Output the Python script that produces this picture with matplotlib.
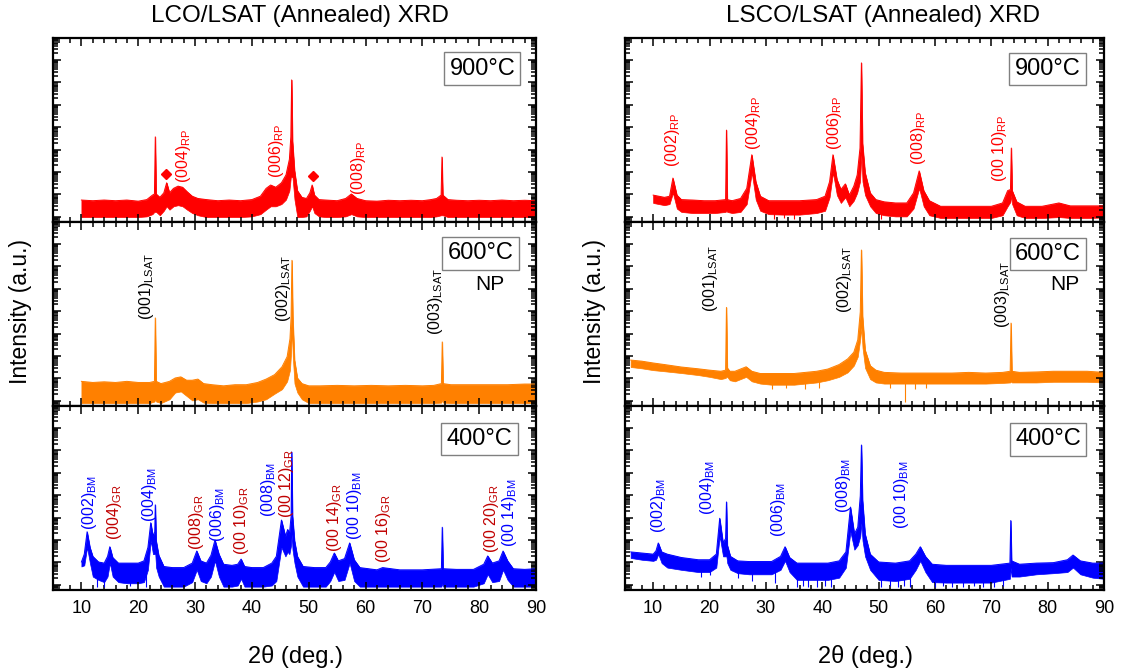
import numpy as np
import matplotlib
matplotlib.use("Agg")
import matplotlib.pyplot as plt
import matplotlib.transforms as mtransforms
from matplotlib.ticker import MultipleLocator, LogLocator, NullFormatter

plt.rcParams['font.family'] = ['Liberation Sans', 'DejaVu Sans']
plt.rcParams['mathtext.fontset'] = 'custom'
plt.rcParams['mathtext.rm'] = 'Liberation Sans'
plt.rcParams['mathtext.it'] = 'Liberation Sans:italic'
plt.rcParams['mathtext.bf'] = 'Liberation Sans:bold'

# ---------------- data (log10 intensity, decades above panel floor) ----------------
# LCO / LSAT 900 C
lco900_x = [10, 12, 14, 16, 18, 20, 21.5, 22.5, 22.85, 23.0, 23.15, 23.8, 24.5, 25.0, 25.5, 26.2, 27.0, 27.8,
            28.6, 29.5, 30.5, 32, 34, 36, 38, 40, 41.5, 42.5, 43.3, 44.2, 45.2, 46.0, 46.6, 46.85, 47.0, 47.15,
            47.5, 48.0, 48.8, 49.6, 50.2, 50.6, 51.0, 51.8, 53, 55, 56.5, 57.5, 58.5, 60, 62, 64, 66, 68, 70,
            71.5, 72.5, 73.3, 73.45, 73.6, 74.5, 76, 78, 80, 82, 84, 86, 88, 90]
lco900_hi = [0.98, 0.95, 0.98, 0.95, 0.98, 0.93, 1.0, 1.2, 1.25, 3.8, 1.25, 1.1, 1.3, 1.75, 1.3, 1.5, 1.6, 1.55,
             1.35, 1.15, 1.05, 1.0, 0.95, 0.98, 0.95, 1.0, 1.15, 1.5, 1.65, 1.55, 1.75, 2.1, 2.8, 3.8, 6.34, 3.6,
             2.3, 1.4, 1.1, 1.05, 1.3, 1.65, 1.2, 1.0, 0.98, 0.95, 1.05, 1.25, 1.05, 0.95, 0.93, 0.97, 0.95, 0.97, 0.95,
             1.0, 1.05, 1.2, 2.9, 1.2, 1.0, 0.97, 0.95, 0.97, 0.95, 0.98, 0.95, 0.97, 0.95]
lco900_lo = [0.22, 0.22, 0.22, 0.22, 0.22, 0.22, 0.25, 0.35, 0.45, 0.45, 0.45, 0.3, 0.5, 0.7, 0.55, 0.7, 0.75, 0.7,
             0.55, 0.4, 0.3, 0.22, 0.22, 0.22, 0.22, 0.25, 0.35, 0.55, 0.7, 0.7, 0.8, 1.0, 1.4, 2.0, 2.0, 2.0,
             1.0, 0.22, 0.22, 0.25, 0.5, 0.7, 0.4, 0.25, 0.22, 0.22, 0.25, 0.35, 0.25, 0.22, 0.22, 0.22, 0.22, 0.22, 0.22,
             0.22, 0.25, 0.3, 0.3, 0.3, 0.22, 0.22, 0.22, 0.22, 0.22, 0.22, 0.22, 0.22, 0.22]
lco900_diamond_x = [24.8, 50.8]
lco900_diamond_y = [2.14, 2.05]

# LCO / LSAT 600 C
lco600_x = [10, 12, 14, 16, 18, 20, 22, 22.85, 23.0, 23.15, 24, 25.5, 26.5, 27.5, 28.5, 29.5, 30.5, 31.5, 33, 35,
            37, 39, 41, 42.5, 44, 45.3, 46.2, 46.7, 46.9, 47.05, 47.2, 47.5, 48, 48.8, 50, 52, 55, 58, 61, 64, 67,
            70, 72, 73.35, 73.5, 73.65, 75, 78, 81, 85, 88, 90]
lco600_hi = [1.1, 1.05, 1.08, 1.05, 1.1, 1.05, 1.05, 1.1, 3.93, 1.1, 1.0, 1.1, 1.25, 1.3, 1.15, 1.15, 1.2, 1.0, 0.95,
             0.9, 0.95, 0.95, 1.05, 1.2, 1.4, 1.75, 2.2, 3.0, 4.0, 6.5, 4.0, 2.05, 1.25, 1.0, 0.9, 0.9, 0.92, 0.9,
             0.92, 0.9, 0.92, 0.9, 0.92, 1.0, 2.86, 1.0, 0.95, 0.95, 0.95, 0.95, 0.98, 0.98]
lco600_lo = [0.13, 0.13, 0.13, 0.13, 0.13, 0.13, 0.13, 0.2, 0.3, 0.2, 0.13, 0.3, 0.6, 0.65, 0.45, 0.25, 0.3, 0.15,
             0.13, 0.13, 0.13, 0.13, 0.2, 0.3, 0.55, 0.75, 1.1, 1.6, 2.4, 3.5, 2.2, 1.0, 0.6, 0.3, 0.13, 0.13, 0.13,
             0.13, 0.13, 0.13, 0.13, 0.13, 0.13, 0.15, 0.3, 0.15, 0.13, 0.13, 0.13, 0.13, 0.13, 0.13]

# LCO / LSAT 400 C
lco400_x = [10, 10.5, 11.0, 11.5, 12, 13, 14, 14.6, 15.0, 15.5, 16.5, 18, 20, 21, 21.7, 22.2, 22.6, 22.9, 23.0,
            23.15, 23.6, 24.5, 26, 28, 29.5, 30.3, 31, 32, 32.8, 33.5, 34.2, 35, 36.5, 37.5, 38.1, 38.7, 40, 42,
            43.5, 44.3, 45.2, 45.9, 46.3, 46.6, 46.9, 47.0, 47.15, 47.5, 48, 49, 51, 53, 53.8, 54.5, 55.2, 56.3,
            57.2, 58, 59, 62, 63, 66, 70, 73.35, 73.5, 73.65, 76, 79, 80.8, 81.5, 82.3, 83.5, 84.2, 85, 86, 88, 90]
lco400_hi = [1.25, 1.6, 2.6, 1.9, 1.5, 1.25, 1.2, 1.5, 1.93, 1.45, 1.2, 1.2, 1.2, 1.3, 1.9, 3.0, 2.4, 2.6, 3.8,
             2.2, 1.55, 1.05, 1.0, 1.0, 1.2, 1.74, 1.3, 1.2, 1.55, 2.23, 1.6, 1.15, 1.1, 1.15, 1.38, 1.05, 1.0, 1.0,
             1.2, 1.5, 3.12, 2.4, 2.7, 2.5, 3.3, 6.16, 3.3, 2.2, 1.5, 1.05, 1.0, 1.0, 1.25, 1.65, 1.3, 1.4,
             2.1, 1.35, 1.0, 0.9, 1.0, 0.9, 0.9, 0.95, 2.8, 0.95, 0.92, 0.92, 1.15, 1.52, 1.2, 1.3, 1.74, 1.3, 0.95, 0.92, 0.95]
lco400_lo = [1.05, 1.1, 1.9, 1.2, 0.6, 0.45, 0.35, 0.6, 1.2, 0.6, 0.35, 0.3, 0.3, 0.35, 0.9, 2.2, 1.6, 1.6, 1.6,
             1.0, 0.6, 0.15, 0.15, 0.15, 0.35, 0.9, 0.4, 0.3, 0.6, 1.3, 0.6, 0.15, 0.15, 0.2, 0.5, 0.15, 0.15, 0.15,
             0.2, 0.4, 1.9, 1.5, 1.7, 1.6, 2.0, 2.5, 1.8, 1.2, 0.6, 0.15, 0.15, 0.15, 0.4, 0.8, 0.4, 0.45,
             1.2, 0.4, 0.15, 0.15, 0.15, 0.15, 0.15, 0.15, 0.3, 0.15, 0.15, 0.15, 0.3, 0.7, 0.35, 0.4, 0.9, 0.45, 0.15, 0.15, 0.15]
lco400_dip_x = [12.8, 14.0, 18.5, 21.3]
lco400_dip_y = [0.13, 0.13, 0.2, 0.13]

# LSCO / LSAT 900 C
lsco900_x = [10, 11, 12, 12.9, 13.5, 14.2, 15, 17, 19, 21, 22.85, 23.0, 23.15, 24, 25.5, 26.6, 27.5, 28.2, 29.0,
             30.5, 33, 36, 39, 40.5, 41.3, 41.9, 42.6, 43.3, 44.1, 44.8, 45.6, 46.2, 46.7, 46.95, 47.15, 47.6,
             48.5, 49.5, 51, 53, 55, 56.2, 57.2, 58, 59, 61, 64, 67, 70, 72, 72.9, 73.4, 73.55, 73.7, 74.5, 76,
             79, 82, 84, 87, 90]
lsco900_hi = [1.2, 1.15, 1.1, 1.15, 1.96, 1.2, 1.0, 0.98, 0.95, 0.95, 1.0, 4.1, 1.0, 0.95, 1.05, 1.5, 3.0, 1.8, 1.15,
              0.95, 0.95, 0.95, 1.0, 1.15, 1.8, 3.0, 1.9, 1.45, 1.7, 1.2, 1.6, 2.1, 3.3, 7.1, 3.5, 2.2,
              1.3, 1.0, 0.9, 0.85, 0.85, 1.3, 2.28, 1.4, 0.95, 0.7, 0.7, 0.7, 0.7, 0.85, 1.4, 1.45, 3.3, 1.4, 0.9, 0.7,
              0.7, 0.85, 0.72, 0.72, 0.72]
lsco900_lo = [0.85, 0.8, 0.75, 0.8, 1.3, 0.6, 0.45, 0.4, 0.4, 0.4, 0.45, 0.5, 0.45, 0.4, 0.45, 0.8, 2.2, 1.0, 0.5,
              0.35, 0.33, 0.33, 0.4, 0.5, 1.1, 2.2, 1.2, 0.85, 1.1, 0.7, 0.95, 1.3, 1.8, 3.0, 1.8, 1.2,
              0.7, 0.4, 0.3, 0.25, 0.25, 0.6, 1.5, 0.7, 0.3, 0.18, 0.18, 0.18, 0.18, 0.3, 0.7, 0.9, 1.2, 0.8, 0.3, 0.18,
              0.18, 0.22, 0.18, 0.18, 0.2]
lsco900_dip_x = [31.5, 33.2, 35.0, 50.5]
lsco900_dip_y = [0.15, 0.2, 0.15, 0.12]

# LSCO / LSAT 600 C
lsco600_x = [6, 8, 10, 12, 15, 18, 20, 22, 22.85, 23.0, 23.15, 23.6, 24.5, 25.5, 26.5, 27.5, 29, 31, 33, 35, 37,
             39, 41, 43, 44.5, 45.6, 46.3, 46.75, 46.95, 47.15, 47.6, 48.5, 49.5, 51, 54, 57, 60, 63, 66, 69, 72,
             73.35, 73.5, 73.65, 75, 78, 81, 84, 87, 90]
lsco600_hi = [2.05, 2.0, 1.92, 1.85, 1.74, 1.66, 1.6, 1.55, 1.6, 4.4, 1.7, 1.55, 1.55, 1.65, 1.75, 1.55, 1.45, 1.45,
              1.45, 1.45, 1.5, 1.55, 1.65, 1.85, 2.1, 2.4, 2.95, 4.2, 6.96, 4.0, 2.5, 1.8, 1.6, 1.5, 1.47, 1.47,
              1.47, 1.47, 1.5, 1.47, 1.5, 1.55, 3.7, 1.55, 1.5, 1.52, 1.55, 1.55, 1.55, 1.5]
lsco600_lo = [1.74, 1.68, 1.6, 1.55, 1.47, 1.38, 1.3, 1.2, 1.25, 1.3, 1.3, 1.15, 1.1, 1.2, 1.3, 1.1, 1.0, 0.95,
              0.95, 0.95, 1.0, 1.05, 1.15, 1.3, 1.5, 1.8, 2.2, 3.0, 3.5, 2.6, 1.7, 1.2, 1.05, 1.0, 1.0, 1.0,
              1.0, 1.0, 1.0, 1.0, 1.03, 1.05, 1.1, 1.05, 1.05, 1.05, 1.08, 1.08, 1.08, 1.05]
lsco600_dip_x = [31.0, 33.5, 37.0, 39.5, 52.0, 54.6, 56.5, 58.5]
lsco600_dip_y = [0.75, 0.8, 0.75, 0.8, 0.8, 0.18, 0.75, 0.8]

# LSCO / LSAT 400 C
lsco400_x = [6, 8, 10, 10.5, 10.9, 11.5, 12.5, 15, 18, 20, 21.2, 21.8, 22.4, 22.85, 23.0, 23.15, 23.7, 25, 27, 29,
             31, 32.6, 33.4, 34.2, 35.5, 38, 41, 43, 44.2, 45.0, 45.7, 46.3, 46.75, 46.95, 47.15, 47.6, 48.5, 50,
             53, 55.5, 56.6, 57.4, 58.3, 59.5, 62, 66, 70, 73.3, 73.45, 73.6, 75, 78, 81, 83.5, 84.5, 85.8, 88, 90]
lsco400_hi = [1.7, 1.65, 1.6, 1.75, 2.1, 1.7, 1.6, 1.45, 1.35, 1.35, 1.6, 3.2, 2.1, 2.3, 3.93, 2.0, 1.5, 1.3, 1.27,
              1.27, 1.27, 1.5, 1.93, 1.45, 1.2, 1.2, 1.2, 1.3, 1.7, 3.7, 2.5, 2.8, 4.2, 6.47, 4.0, 2.5, 1.6, 1.25,
              1.2, 1.3, 1.6, 1.93, 1.5, 1.15, 1.1, 1.1, 1.1, 1.2, 3.1, 1.3, 1.15, 1.2, 1.22, 1.35, 1.56, 1.3, 1.2, 1.2]
lsco400_lo = [1.43, 1.35, 1.3, 1.35, 1.6, 1.2, 1.0, 0.9, 0.8, 0.8, 1.0, 2.4, 1.5, 1.5, 1.5, 1.2, 0.9, 0.75, 0.7,
              0.7, 0.7, 0.9, 1.3, 0.8, 0.45, 0.45, 0.45, 0.55, 1.0, 2.6, 1.8, 2.0, 2.4, 3.0, 2.2, 1.5, 0.9, 0.45,
              0.4, 0.5, 0.9, 1.3, 0.8, 0.35, 0.33, 0.33, 0.33, 0.5, 1.0, 0.6, 0.6, 0.7, 0.75, 0.8, 1.0, 0.7, 0.55, 0.5]
lsco400_dip_x = [18.5, 20.0, 25.0, 27.5, 31.7, 35.5, 36.5, 37.5, 39.0, 40.5, 41.5, 50.5, 52.0, 53.5, 54.5, 55.5,
                 60.0, 61.5, 63.0, 65.0, 67.0, 68.5, 70.5, 72.0]
lsco400_dip_y = [0.6, 0.65, 0.55, 0.4, 0.3, 0.15, 0.2, 0.15, 0.15, 0.2, 0.15, 0.15, 0.2, 0.15, 0.2, 0.15,
                 0.15, 0.2, 0.15, 0.15, 0.2, 0.15, 0.15, 0.2]

# peak labels: (text, subscript, x position in deg, label-bottom height as axes fraction)
lco900_labels = [("(004)", "RP", 27.9, 0.212), ("(006)", "RP", 44.3, 0.239), ("(008)", "RP", 58.7, 0.147)]
lco600_labels = [("(001)", "LSAT", 21.5, 0.467), ("(002)", "LSAT", 45.5, 0.457), ("(003)", "LSAT", 72.3, 0.386)]
lco400_labels = [("(002)", "BM", 11.5, 0.326), ("(004)", "GR", 15.9, 0.272), ("(004)", "BM", 21.9, 0.37),
                 ("(008)", "GR", 30.2, 0.217), ("(006)", "BM", 34.0, 0.261), ("(00 10)", "GR", 38.1, 0.19),
                 ("(008)", "BM", 42.9, 0.397), ("(00 12)", "GR", 46.1, 0.391), ("(00 14)", "GR", 54.6, 0.207),
                 ("(00 10)", "BM", 58.1, 0.272), ("(00 16)", "GR", 63.1, 0.147), ("(00 20)", "GR", 82.2, 0.201),
                 ("(00 14)", "BM", 85.4, 0.234)]
lsco900_labels = [("(002)", "RP", 13.5, 0.299), ("(004)", "RP", 27.8, 0.391), ("(006)", "RP", 42.1, 0.391),
                  ("(008)", "RP", 57.0, 0.31), ("(00 10)", "RP", 71.5, 0.217)]
lsco600_labels = [("(001)", "LSAT", 20.2, 0.511), ("(002)", "LSAT", 44.0, 0.505), ("(003)", "LSAT", 72.0, 0.424)]
lsco400_labels = [("(002)", "BM", 11.0, 0.31), ("(004)", "BM", 19.7, 0.408), ("(006)", "BM", 32.2, 0.288),
                  ("(008)", "BM", 43.7, 0.418), ("(00 10)", "BM", 54.1, 0.332)]

titles = ["LCO/LSAT (Annealed) XRD", "LSCO/LSAT (Annealed) XRD"]
temps = ["900°C", "600°C", "400°C"]
xticks = [10, 20, 30, 40, 50, 60, 70, 80, 90]

# ---------------- styling ----------------
RED = "#FF0000"
ORANGE = "#FF8000"
BLUE = "#0000FF"
DARKRED = "#C00000"
LOG0 = -0.23          # log10 at panel floor
NDEC = 8.21           # decades per panel

fig = plt.figure(figsize=(11.22, 6.72), dpi=100)

col_left = [53 / 1122, 625 / 1122]
col_width = [483 / 1122, 479 / 1122]
row_bottom = [1 - 222 / 672, 1 - 406 / 672, 1 - 590 / 672]
row_h = 184 / 672

traces = [
    [(lco900_x, lco900_lo, lco900_hi, RED, [], []),
     (lco600_x, lco600_lo, lco600_hi, ORANGE, [], []),
     (lco400_x, lco400_lo, lco400_hi, BLUE, lco400_dip_x, lco400_dip_y)],
    [(lsco900_x, lsco900_lo, lsco900_hi, RED, lsco900_dip_x, lsco900_dip_y),
     (lsco600_x, lsco600_lo, lsco600_hi, ORANGE, lsco600_dip_x, lsco600_dip_y),
     (lsco400_x, lsco400_lo, lsco400_hi, BLUE, lsco400_dip_x, lsco400_dip_y)],
]
labels = [[lco900_labels, lco600_labels, lco400_labels],
          [lsco900_labels, lsco600_labels, lsco400_labels]]

def lab_color(sub):
    return {"RP": RED, "LSAT": "black", "BM": BLUE, "GR": DARKRED}[sub]

box_pos = [[(0.889, 0.834), (0.885, 0.829), (0.883, 0.82)],
           [(0.882, 0.832), (0.883, 0.826), (0.883, 0.818)]]
np_pos = [(0.905, 0.658), (0.918, 0.658)]

for c in range(2):
    for r in range(3):
        ax = fig.add_axes([col_left[c], row_bottom[r], col_width[c], row_h])
        x, lo, hi, col, dx, dy = traces[c][r]
        x = np.array(x)
        lo_i = 10 ** (np.array(lo) + LOG0)
        hi_i = 10 ** (np.array(hi) + LOG0)
        ax.fill_between(x, lo_i, hi_i, color=col, lw=0.5)
        ax.plot(x, hi_i, color=col, lw=0.7)
        if len(dx):
            top = np.interp(dx, x, np.array(lo)) + 0.2
            ax.vlines(dx, 10 ** (np.array(dy) + LOG0), 10 ** (top + LOG0), color=col, lw=0.8)
        ax.set_yscale('log')
        ax.set_ylim(10 ** LOG0, 10 ** (LOG0 + NDEC))
        ax.set_xlim(5, 90)
        ax.xaxis.set_major_locator(MultipleLocator(10))
        ax.xaxis.set_minor_locator(MultipleLocator(2))
        ax.yaxis.set_major_locator(LogLocator(base=10, numticks=100))
        ax.yaxis.set_minor_locator(LogLocator(base=10, subs=np.arange(2, 10), numticks=100))
        ax.yaxis.set_major_formatter(NullFormatter())
        ax.yaxis.set_minor_formatter(NullFormatter())
        ax.tick_params(which='both', direction='in', top=True, right=True, width=1.1)
        ax.tick_params(which='major', length=6)
        ax.tick_params(which='minor', length=3.5)
        ax.tick_params(axis='x', labelsize=13, pad=7)
        if r < 2:
            ax.tick_params(axis='x', labelbottom=False)
        else:
            ax.set_xticks(xticks)
        for s in ax.spines.values():
            s.set_linewidth(1.6)

        trans = mtransforms.blended_transform_factory(ax.transData, ax.transAxes)
        fs = 11.5
        for main, sub, lx, ly in labels[c][r]:
            ax.text(lx, ly, main + r"$_{\mathrm{" + sub + "}}$", rotation=90, ha='center', va='bottom',
                    color=lab_color(sub), fontsize=fs, transform=trans)

        bx, by = box_pos[c][r]
        ax.text(bx, by, temps[r], transform=ax.transAxes, ha='center', va='center', fontsize=17,
                bbox=dict(boxstyle='square,pad=0.22', fc='white', ec='#808080', lw=1.0))
        if r == 1:
            ax.text(np_pos[c][0], np_pos[c][1], "NP", transform=ax.transAxes, ha='center', va='center',
                    fontsize=15)
        if c == 0 and r == 0:
            ax.plot(lco900_diamond_x, 10 ** (np.array(lco900_diamond_y) + LOG0), 'D', color=RED,
                    ms=5.5, mec=RED)

fig.text(300 / 1122, 1 - 16 / 672, titles[0], ha='center', va='center', fontsize=17.5)
fig.text(883 / 1122, 1 - 16 / 672, titles[1], ha='center', va='center', fontsize=17.5)
fig.text(21 / 1122, 1 - 312 / 672, "Intensity (a.u.)", rotation=90, ha='center', va='center', fontsize=16.5)
fig.text(594 / 1122, 1 - 311 / 672, "Intensity (a.u.)", rotation=90, ha='center', va='center', fontsize=16.5)
fig.text(296 / 1122, 1 - 656 / 672, "2θ (deg.)", ha='center', va='center', fontsize=17)
fig.text(866 / 1122, 1 - 656 / 672, "2θ (deg.)", ha='center', va='center', fontsize=17)

fig.savefig("out.png", dpi=100)
